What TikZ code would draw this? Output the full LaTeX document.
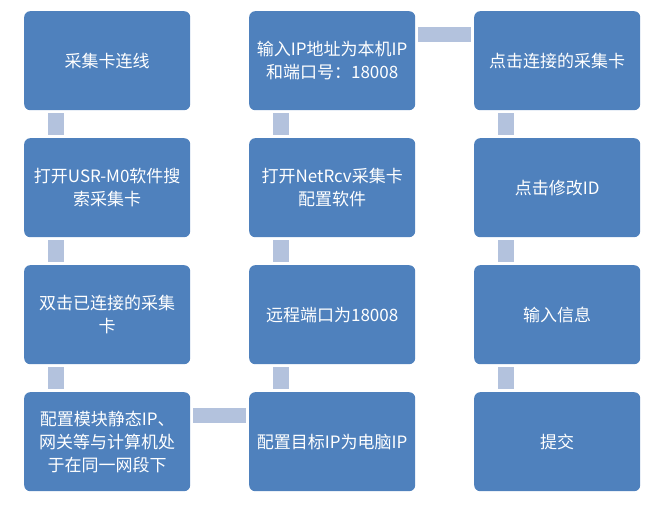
\documentclass[tikz,border=0pt]{standalone}
\usepackage{fontspec}
\setmainfont{Noto Sans CJK SC}
\usetikzlibrary{positioning}
\definecolor{boxblue}{HTML}{4F81BD}
\definecolor{linkblue}{HTML}{B3C2DD}
\begin{document}
\begin{tikzpicture}[x=1pt,y=-1pt,
  stepbox/.style={fill=boxblue, rounded corners=6pt, text=white,
    minimum width=166pt, minimum height=99pt, inner sep=0pt,
    align=center, font=\fontsize{17}{23}\selectfont, anchor=north west},
  link/.style={fill=linkblue, draw=none}]
\useasboundingbox (0,0) rectangle (665,511);
% column x: 24, 249, 474 ; row y: 11, 138, 265, 392
\node[stepbox] (a1) at (24,11)  {采集卡连线};
\node[stepbox] (a2) at (24,138) {打开USR-M0软件搜\\索采集卡};
\node[stepbox] (a3) at (24,265) {双击已连接的采集\\卡};
\node[stepbox] (a4) at (24,392) {配置模块静态IP、\\网关等与计算机处\\于在同一网段下};
\node[stepbox] (b4) at (249,392) {配置目标IP为电脑IP};
\node[stepbox] (b3) at (249,265) {远程端口为18008};
\node[stepbox] (b2) at (249,138) {打开NetRcv采集卡\\配置软件};
\node[stepbox] (b1) at (249,11)  {输入IP地址为本机IP\\和端口号：18008};
\node[stepbox] (c1) at (474,11)  {点击连接的采集卡};
\node[stepbox] (c2) at (474,138) {点击修改ID};
\node[stepbox] (c3) at (474,265) {输入信息};
\node[stepbox] (c4) at (474,392) {提交};
% vertical links, offset 24..40 from each box's left edge (upper box / lower box)
\foreach \u/\v in {a1/a2,a2/a3,a3/a4,b1/b2,b2/b3,b3/b4,c1/c2,c2/c3,c3/c4}{
  \path[link] ([xshift=24pt,yshift=-3pt]\u.south west) rectangle ([xshift=40pt,yshift=3pt]\v.north west);
}
% horizontal links, 16..31 below each box's top edge
\path[link] ([xshift=3pt,yshift=-16pt]a4.north east) rectangle ([xshift=-3pt,yshift=-31pt]b4.north west);
\path[link] ([xshift=3pt,yshift=-16pt]b1.north east) rectangle ([xshift=-3pt,yshift=-31pt]c1.north west);
\end{tikzpicture}
\end{document}
